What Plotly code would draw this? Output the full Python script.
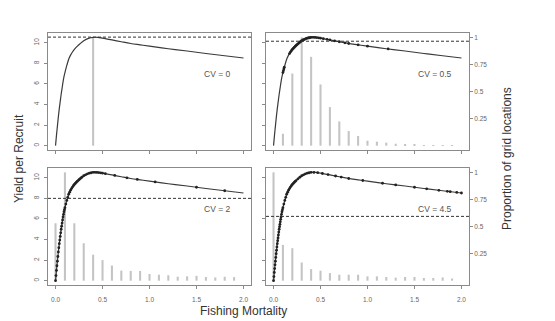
import numpy as np
import plotly.graph_objects as go

# ---------------- data ----------------
F_curve = [0, 0.01, 0.02, 0.03, 0.04, 0.05, 0.06, 0.07, 0.08, 0.09, 0.10, 0.12, 0.14,
           0.16, 0.18, 0.20, 0.23, 0.26, 0.30, 0.35, 0.40, 0.45, 0.50, 0.60, 0.70,
           0.80, 0.90, 1.00, 1.20, 1.40, 1.60, 1.80, 2.00]
YPR = [0, 1.0, 1.9, 2.8, 3.6, 4.3, 5.0, 5.6, 6.2, 6.7, 7.1, 7.8, 8.4,
       8.8, 9.1, 9.35, 9.65, 9.9, 10.2, 10.43, 10.53, 10.52, 10.45, 10.28, 10.1,
       9.93, 9.8, 9.67, 9.42, 9.2, 8.96, 8.74, 8.52]

F_bins = [0.0, 0.1, 0.2, 0.3, 0.4, 0.5, 0.6, 0.7, 0.8, 0.9,
          1.0, 1.1, 1.2, 1.3, 1.4, 1.5, 1.6, 1.7, 1.8, 1.9]

panels = ["CV = 0", "CV = 0.5", "CV = 2", "CV = 4.5"]

prop_cv0 = [0, 0, 0, 0, 1.0, 0, 0, 0, 0, 0, 0, 0, 0, 0, 0, 0, 0, 0, 0, 0]
prop_cv05 = [0.0, 0.11, 0.666, 1.0, 0.82, 0.565, 0.356, 0.224, 0.135, 0.089,
             0.046, 0.037, 0.028, 0.018, 0.012, 0.01, 0.006, 0.004, 0.004, 0.003]
prop_cv2 = [0.53, 1.0, 0.53, 0.346, 0.24, 0.19, 0.14, 0.093, 0.09, 0.09,
            0.062, 0.055, 0.05, 0.037, 0.04, 0.045, 0.034, 0.03, 0.036, 0.033]
prop_cv45 = [1.0, 0.33, 0.3, 0.168, 0.107, 0.092, 0.07, 0.055, 0.055, 0.055,
             0.04, 0.04, 0.034, 0.028, 0.034, 0.034, 0.025, 0.025, 0.03, 0.02]

ref_level = [10.55, 10.15, 8.0, 6.25]

mark_cv0 = []
mark_cv05 = [0.10, 0.105, 0.11, 0.115, 0.17, 0.18, 0.19, 0.2, 0.21, 0.22, 0.23, 0.24, 0.25,
             0.26, 0.27, 0.28, 0.29, 0.3, 0.31, 0.32, 0.33, 0.34, 0.35, 0.36, 0.37,
             0.38, 0.39, 0.4, 0.42, 0.44, 0.46, 0.48, 0.5, 0.53, 0.57, 0.6, 0.65,
             0.7, 0.76, 0.8, 0.9, 1.0, 1.22]
mark_cv2 = [0.0, 0.005, 0.01, 0.015, 0.02, 0.025, 0.03, 0.035, 0.04, 0.045, 0.05,
            0.055, 0.06, 0.065, 0.07, 0.075, 0.08, 0.085, 0.09, 0.095, 0.1, 0.11,
            0.12, 0.13, 0.14, 0.15, 0.16, 0.17, 0.18, 0.19, 0.2, 0.21, 0.22, 0.23,
            0.24, 0.25, 0.26, 0.27, 0.28, 0.3, 0.32, 0.34, 0.36, 0.38, 0.4, 0.42,
            0.44, 0.46, 0.48, 0.5, 0.53, 0.63, 0.76, 0.87, 1.06, 1.5, 1.8]
mark_cv45 = [0.0, 0.004, 0.008, 0.012, 0.016, 0.02, 0.024, 0.028, 0.032, 0.036, 0.04,
             0.044, 0.048, 0.052, 0.056, 0.06, 0.064, 0.068, 0.072, 0.076, 0.08,
             0.085, 0.09, 0.095, 0.1, 0.11, 0.12, 0.13, 0.14, 0.15, 0.16, 0.17,
             0.18, 0.19, 0.2, 0.21, 0.22, 0.23, 0.24, 0.26, 0.28, 0.3, 0.32, 0.34,
             0.36, 0.38, 0.4, 0.43, 0.47, 0.52, 0.58, 0.66, 0.72, 0.8, 0.95, 1.16,
             1.3, 1.5, 1.63, 1.76, 1.85, 1.88, 1.95, 2.0]

x_ticks = [0.0, 0.5, 1.0, 1.5, 2.0]
x_tick_text = ["0.0", "0.5", "1.0", "1.5", "2.0"]
y_ticks = [0, 2, 4, 6, 8, 10]
r_ticks = [0.25, 0.5, 0.75, 1.0]
r_tick_text = ["0.25", "0.5", "0.75", "1"]

props = [prop_cv0, prop_cv05, prop_cv2, prop_cv45]
marks = [mark_cv0, mark_cv05, mark_cv2, mark_cv45]

# ---------------- figure ----------------
YMAX = max(YPR)
XR = [-0.08, 2.08]
YR = [-0.42, 10.95]
RR = [YR[0] / YMAX, YR[1] / YMAX]

xdom = {"L": [0.0865, 0.4523], "R": [0.4793, 0.845]}
ydom = {"T": [0.5327, 0.8972], "B": [0.1121, 0.4766]}
pos = [("L", "T"), ("R", "T"), ("L", "B"), ("R", "B")]

fig = go.Figure()
axis_col = "#8a8a8a"
tick_font = dict(family="Liberation Sans, Arial", size=6.5, color="#666")

layout = {}
for i in range(4):
    n = "" if i == 0 else str(i + 1)
    xa, ya = "x" + n, "y" + n
    cx, cy = pos[i]
    bottom = cy == "B"
    left = cx == "L"
    layout["xaxis" + n] = dict(
        domain=xdom[cx], anchor=ya, range=XR, tickvals=x_ticks, ticktext=x_tick_text,
        showticklabels=bottom, ticks="outside", ticklen=3, tickcolor=axis_col,
        showline=True, mirror=True, linecolor=axis_col, linewidth=1,
        showgrid=False, zeroline=False, tickfont=tick_font, ticklabelstandoff=5)
    layout["yaxis" + n] = dict(
        domain=ydom[cy], anchor=xa, range=YR, tickvals=y_ticks,
        showticklabels=left, tickangle=-90, ticks="outside", ticklen=3,
        tickcolor=axis_col, showline=True, mirror=True, linecolor=axis_col,
        linewidth=1, showgrid=False, zeroline=False, tickfont=tick_font,
        ticklabelstandoff=2)

    bars_y = [p * YMAX for p in props[i]]
    fig.add_trace(go.Bar(x=F_bins, y=bars_y, width=0.022, marker_color="#c4c4c4",
                         marker_line_width=0, xaxis=xa, yaxis=ya, showlegend=False))
    fig.add_trace(go.Scatter(x=F_curve, y=YPR, mode="lines", line_shape="spline",
                             line=dict(color="#3a3a3a", width=1.2),
                             xaxis=xa, yaxis=ya, showlegend=False))
    if marks[i]:
        my = np.interp(marks[i], F_curve, YPR)
        fig.add_trace(go.Scatter(x=marks[i], y=my, mode="markers",
                                 marker=dict(color="#222", size=2.8),
                                 xaxis=xa, yaxis=ya, showlegend=False))
    fig.add_shape(type="line", xref=xa, yref=ya, x0=XR[0], x1=XR[1],
                  y0=ref_level[i], y1=ref_level[i],
                  line=dict(color="#333", width=1, dash="3px,2px"))
    fig.add_annotation(x=1.72, y=7.0, xref=xa, yref=ya, text=panels[i],
                       showarrow=False, font=dict(family="Liberation Sans, Arial",
                                                  size=8.5, color="#555"))

# right-hand proportion axes
for k, (base, n_r) in enumerate([("2", "5"), ("4", "6")]):
    cy = "T" if k == 0 else "B"
    layout["yaxis" + n_r] = dict(
        domain=ydom[cy], anchor="x" + base, overlaying="y" + base, side="right",
        range=RR, tickvals=r_ticks, ticktext=r_tick_text, ticks="outside",
        ticklen=3, tickcolor=axis_col, showgrid=False, zeroline=False,
        showline=False, tickfont=tick_font)
    fig.add_trace(go.Scatter(x=[None], y=[None], xaxis="x" + base, yaxis="y" + n_r,
                             showlegend=False, hoverinfo="skip"))

fig.update_layout(**layout)
title_font = dict(family="Liberation Sans, Arial", size=12, color="#333")
fig.add_annotation(x=19 / 555, y=1 - 159 / 321, xref="paper", yref="paper",
                   xanchor="center", yanchor="middle",
                   text="Yield per Recruit", textangle=-90, showarrow=False,
                   font=title_font)
fig.add_annotation(x=507 / 555, y=1 - 159 / 321, xref="paper", yref="paper",
                   xanchor="center", yanchor="middle",
                   text="Proportion of grid locations", textangle=-90,
                   showarrow=False, font=title_font)
fig.add_annotation(x=243 / 555, y=1 - 311 / 321, xref="paper", yref="paper",
                   xanchor="center", yanchor="middle",
                   text="Fishing Mortality", showarrow=False, font=title_font)

fig.update_layout(width=555, height=321, margin=dict(l=0, r=0, t=0, b=0),
                  paper_bgcolor="white", plot_bgcolor="white", barmode="overlay",
                  showlegend=False)
fig.write_html("out.html")
